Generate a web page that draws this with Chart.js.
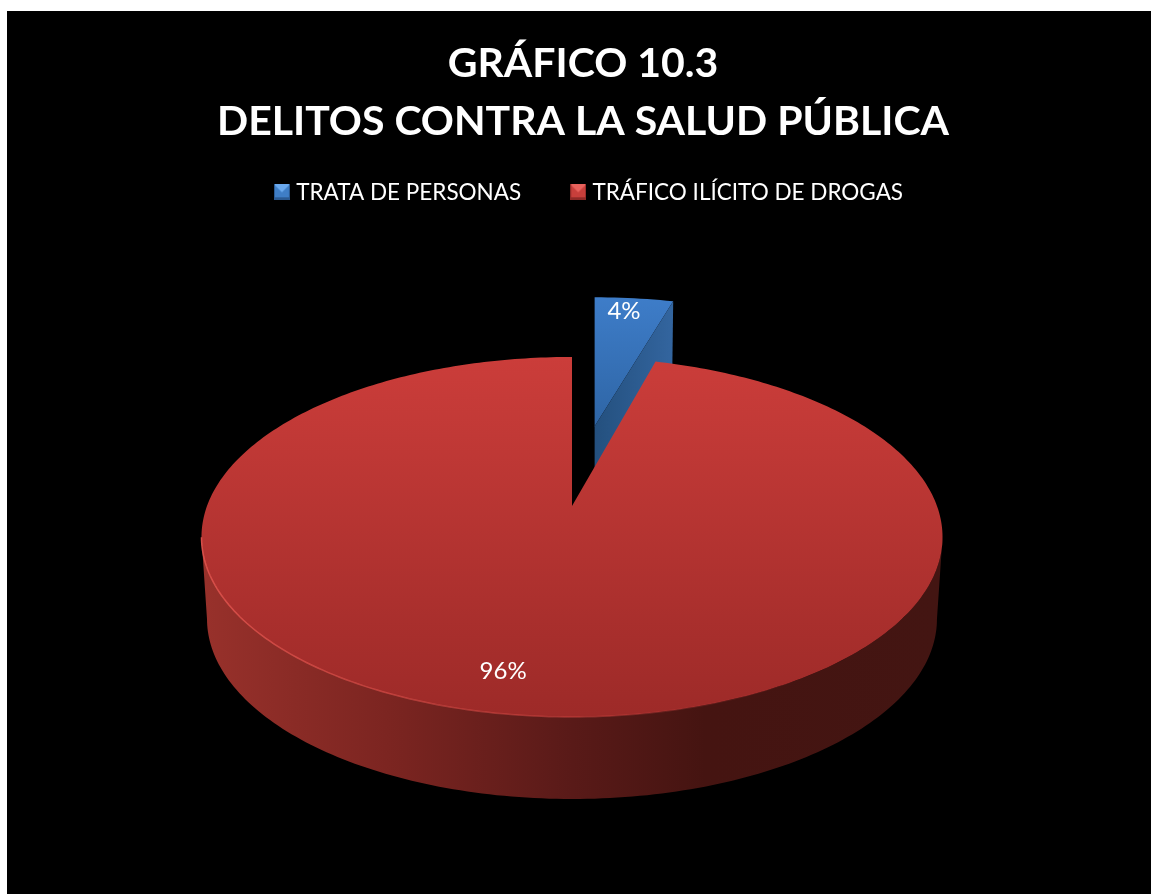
<!DOCTYPE html>
<html>
<head>
<meta charset="utf-8">
<title>Gráfico 10.3</title>
<script src="https://cdn.jsdelivr.net/npm/chart.js@4"></script>
<style>
  html, body { margin: 0; padding: 0; background: #fff; overflow: hidden; }
  #grafico { position: absolute; left: 7px; top: 11px; background: #000; }
</style>
</head>
<body>
<canvas id="grafico" width="1144" height="883"></canvas>
<script>
const tituloLineas = ["GRÁFICO 10.3", "DELITOS CONTRA LA SALUD PÚBLICA"];
const categorias = ["TRATA DE PERSONAS", "TRÁFICO ILÍCITO DE DROGAS"];
const valores = [4.3, 95.7];
const separacion = [185, 0];   // explode of each slice

// perspective of the pie plane, fitted to the picture
const apexX = 565, apexY = 495;
const persp = -0.172, escalaX = 365, escalaY = 174.7;
const fondo = 82;              // depth of the red wall
const fondoAzul = 75;

function proyectar(u, v) {
  const w = 1 + persp * v;
  return { x: escalaX * u / w, y: escalaY * v / w };
}

function cuadroLeyenda(claro, medio, oscuro) {
  const c = document.createElement("canvas");
  c.width = 16; c.height = 16;
  const g = c.getContext("2d");
  g.fillStyle = medio;
  g.fillRect(0, 0, 16, 16);
  g.fillStyle = claro;
  g.beginPath(); g.moveTo(0, 0); g.lineTo(16, 0); g.lineTo(8, 8); g.closePath(); g.fill();
  g.fillStyle = oscuro;
  g.fillRect(0, 13, 16, 3);
  g.fillRect(0, 0, 1, 16);
  g.fillRect(15, 0, 1, 16);
  return c;
}
const cuadros = [
  cuadroLeyenda("#6aa9ee", "#3f7ec6", "#2b5a92"),
  cuadroLeyenda("#e8625c", "#c83f3b", "#8f2a27")
];

function poligono(ctx, puntos) {
  ctx.beginPath();
  puntos.forEach((p, i) => i ? ctx.lineTo(p.x, p.y) : ctx.moveTo(p.x, p.y));
  ctx.closePath();
}

function degradado(ctx, x0, y0, x1, y1, paradas) {
  const g = ctx.createLinearGradient(x0, y0, x1, y1);
  paradas.forEach(p => g.addColorStop(p[0], p[1]));
  return g;
}

function textoEtiqueta(ctx, texto, x, y) {
  ctx.fillStyle = "#fff";
  ctx.font = "24px Lato";
  ctx.textAlign = "center";
  ctx.textBaseline = "middle";
  ctx.fillText(texto, x, y);
}

// draws the arcs the doughnut controller laid out, tilted in perspective
const pie3d = {
  id: "pie3d",
  afterLayout(chart) {
    // legend sits a little right of the title in the original
    chart.legend.left += 8;
    chart.legend.right += 8;
  },
  beforeDatasetDraw() { return false; },
  afterDatasetsDraw(chart) {
    const ctx = chart.ctx;
    const arcos = chart.getDatasetMeta(0).data;
    const total = valores.reduce((a, b) => a + b, 0);
    ctx.save();

    // blue slice, pushed back along its mid angle
    const azul = arcos[0];
    const medioAzul = (azul.startAngle + azul.endAngle) / 2;
    const despl = separacion[0] / azul.outerRadius;
    const base = proyectar(Math.cos(medioAzul) * despl, Math.sin(medioAzul) * despl);
    const ax = apexX + base.x, ay = apexY + base.y;
    const aPunto = (ang, r) => {
      const p = proyectar(Math.cos(ang) * r, Math.sin(ang) * r);
      return { x: ax + p.x * 0.94, y: ay + p.y * 0.865 };
    };
    const bordeAzul = [{ x: ax, y: ay }];
    for (let i = 0; i <= 12; i++) {
      bordeAzul.push(aPunto(azul.startAngle + (azul.endAngle - azul.startAngle) * i / 12, 1));
    }
    poligono(ctx, bordeAzul);
    ctx.fillStyle = degradado(ctx, 0, ay - 130, 0, ay, [[0, "#3e7dc9"], [1, "#2e65a5"]]);
    ctx.fill();
    const finAzul = bordeAzul[bordeAzul.length - 1];
    poligono(ctx, [
      { x: ax, y: ay }, finAzul,
      { x: finAzul.x - 1, y: finAzul.y + fondoAzul }, { x: ax, y: ay + fondoAzul }
    ]);
    ctx.fillStyle = degradado(ctx, ax, 0, finAzul.x, 0, [[0, "#24507e"], [1, "#33659f"]]);
    ctx.fill();

    // red slice: wall first, then the top face
    const rojo = arcos[1];
    const cx = apexX - 1.5;
    const aRojo = ang => {
      const p = proyectar(Math.cos(ang), Math.sin(ang));
      return { x: apexX + p.x, y: apexY + p.y };
    };
    const abajo = p => ({ x: cx + (p.x - cx) * 0.985, y: p.y + fondo });
    const arriba = [], fondoPts = [];
    // from the rightmost to the leftmost point of the rim
    for (let i = 10; i <= 170; i++) {
      const p = aRojo(i * Math.PI / 180);
      arriba.push(p);
      fondoPts.unshift(abajo(p));
    }
    poligono(ctx, arriba.concat(fondoPts));
    ctx.fillStyle = degradado(ctx, 195, 0, 935, 0, [
      [0, "#98312b"], [0.25, "#7c2521"], [0.5, "#591a18"], [0.68, "#451411"], [1, "#431512"]
    ]);
    ctx.fill();

    const caraRoja = [{ x: apexX, y: apexY }];
    const pasos = 360;
    for (let i = 0; i <= pasos; i++) {
      caraRoja.push(aRojo(rojo.startAngle + (rojo.endAngle - rojo.startAngle) * i / pasos));
    }
    poligono(ctx, caraRoja);
    ctx.fillStyle = degradado(ctx, 0, 346, 0, 706, [[0, "#cb3d3a"], [1, "#9d2a28"]]);
    ctx.fill();

    // light rim on the lower left edge
    ctx.beginPath();
    arriba.forEach((p, i) => i ? ctx.lineTo(p.x, p.y) : ctx.moveTo(p.x, p.y));
    ctx.lineWidth = 1.5;
    ctx.strokeStyle = degradado(ctx, 195, 0, 800, 0, [
      [0, "rgba(226,84,78,0.9)"], [0.6, "rgba(210,70,66,0.5)"], [1, "rgba(200,60,60,0)"]
    ]);
    ctx.stroke();

    // percentage labels
    const pAzul = aPunto(medioAzul, 0.88);
    textoEtiqueta(ctx, Math.round(valores[0] / total * 100) + "%", pAzul.x - 6, pAzul.y);
    const medioRojo = (rojo.startAngle + rojo.endAngle) / 2;
    const pr = proyectar(Math.cos(medioRojo) * 0.82, Math.sin(medioRojo) * 0.82);
    textoEtiqueta(ctx, Math.round(valores[1] / total * 100) + "%", apexX + pr.x - 22, apexY + pr.y);

    ctx.restore();
  }
};

new Chart(document.getElementById("grafico"), {
  type: "pie",
  data: {
    labels: categorias,
    datasets: [{
      data: valores,
      backgroundColor: ["#3e7dc9", "#c83f3b"],
      borderWidth: 0,
      offset: separacion
    }]
  },
  options: {
    responsive: false,
    animation: false,
    radius: 370,
    devicePixelRatio: 1,
    layout: { padding: { left: 8, top: 0 } },
    plugins: {
      tooltip: { enabled: false },
      title: {
        display: true,
        text: tituloLineas,
        color: "#fff",
        font: { family: "Lato", size: 41, weight: "bold", lineHeight: 1.415 },
        padding: { top: 24, bottom: -24 }
      },
      legend: {
        position: "top",
        labels: {
          usePointStyle: true,
          pointStyleWidth: 6,
          padding: 54,
          color: "#fff",
          font: { family: "Lato", size: 22.5 },
          generateLabels: () => categorias.map((c, i) => ({
            text: c, pointStyle: cuadros[i], fontColor: "#fff", index: i, hidden: false
          }))
        }
      }
    }
  },
  plugins: [pie3d]
});
</script>
</body>
</html>
